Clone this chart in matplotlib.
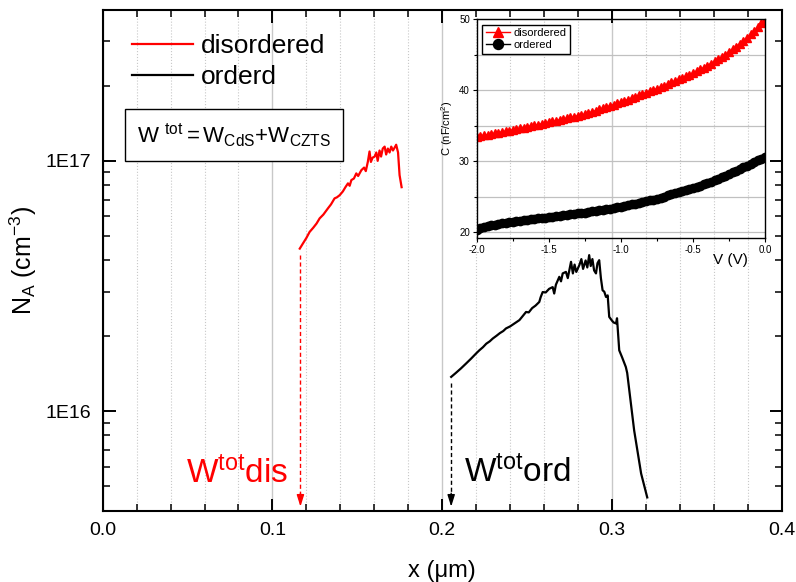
import matplotlib
matplotlib.use('Agg')
import matplotlib.pyplot as plt
from matplotlib.ticker import MultipleLocator, LogLocator, FixedLocator, FixedFormatter, NullFormatter
from matplotlib.lines import Line2D

plt.rcParams['font.family'] = ['Liberation Sans', 'DejaVu Sans']
plt.rcParams['mathtext.fontset'] = 'custom'
plt.rcParams['mathtext.rm'] = 'Liberation Sans'
plt.rcParams['mathtext.it'] = 'Liberation Sans:italic'
plt.rcParams['mathtext.default'] = 'regular'
plt.rcParams['axes.unicode_minus'] = False

# ---------------- main chart data: N_A vs depth x (um) ----------------
dis_x = [0.1161, 0.1180, 0.1200, 0.1219, 0.1240, 0.1260, 0.1278, 0.1300, 0.1327, 0.1345,
         0.1366, 0.1380, 0.1396, 0.1415, 0.1430, 0.1445, 0.1455, 0.1465, 0.1480, 0.1494,
         0.1505, 0.1524, 0.1540, 0.1550, 0.1562, 0.1572, 0.1580, 0.1590, 0.1602, 0.1612,
         0.1620, 0.1631, 0.1640, 0.1650, 0.1661, 0.1670, 0.1680, 0.1690, 0.1700, 0.1710,
         0.1720, 0.1729, 0.1740, 0.1749, 0.1761]
dis_n = [4.46e16, 4.68e16, 4.92e16, 5.20e16, 5.40e16, 5.62e16, 5.89e16, 6.10e16, 6.46e16, 6.70e16,
         7.08e16, 7.15e16, 7.29e16, 7.55e16, 7.85e16, 8.13e16, 7.95e16, 8.38e16, 8.50e16, 8.91e16,
         8.70e16, 9.18e16, 9.40e16, 9.10e16, 9.91e16, 1.09e17, 9.90e16, 1.03e17, 1.04e17, 1.08e17,
         1.00e17, 1.10e17, 1.04e17, 1.12e17, 1.14e17, 1.06e17, 1.12e17, 1.08e17, 1.14e17, 1.10e17,
         1.13e17, 1.16e17, 1.08e17, 8.77e16, 7.85e16]

ord_x = [0.2053, 0.2080, 0.2110, 0.2141, 0.2170, 0.2200, 0.2219, 0.2240, 0.2260, 0.2280,
         0.2298, 0.2320, 0.2340, 0.2360, 0.2376, 0.2400, 0.2430, 0.2455, 0.2475, 0.2494,
         0.2510, 0.2530, 0.2550, 0.2572, 0.2580, 0.2592, 0.2610, 0.2630, 0.2651, 0.2660,
         0.2670, 0.2690, 0.2700, 0.2710, 0.2729, 0.2740, 0.2759, 0.2770, 0.2780, 0.2790,
         0.2808, 0.2820, 0.2830, 0.2845, 0.2855, 0.2866, 0.2875, 0.2885, 0.2895, 0.2906,
         0.2915, 0.2925, 0.2935, 0.2945, 0.2955, 0.2965, 0.2975, 0.2984, 0.3000, 0.3010,
         0.3024, 0.3030, 0.3043, 0.3060, 0.3082, 0.3090, 0.3131, 0.3172, 0.3208]
ord_n = [1.37e16, 1.42e16, 1.48e16, 1.55e16, 1.62e16, 1.70e16, 1.75e16, 1.80e16, 1.86e16, 1.90e16,
         1.95e16, 2.00e16, 2.05e16, 2.09e16, 2.14e16, 2.18e16, 2.25e16, 2.31e16, 2.40e16, 2.49e16,
         2.48e16, 2.58e16, 2.64e16, 2.73e16, 2.85e16, 2.99e16, 2.98e16, 3.08e16, 3.13e16, 2.95e16,
         3.20e16, 3.44e16, 3.30e16, 3.55e16, 3.60e16, 3.40e16, 3.95e16, 3.55e16, 3.85e16, 3.60e16,
         3.83e16, 4.05e16, 3.70e16, 4.00e16, 3.75e16, 4.20e16, 3.80e16, 4.05e16, 3.65e16, 3.55e16,
         3.90e16, 4.01e16, 3.40e16, 3.04e16, 3.00e16, 2.86e16, 2.90e16, 2.38e16, 2.30e16, 2.26e16,
         2.24e16, 2.35e16, 1.75e16, 1.64e16, 1.50e16, 1.42e16, 8.37e15, 5.63e15, 4.52e15]

w_dis = 0.1165     # W_tot disordered marker position
w_ord = 0.2053     # W_tot ordered marker position

# ---------------- inset data: C-V ----------------
V = [-2.000, -1.975, -1.950, -1.925, -1.900, -1.875, -1.850, -1.825, -1.800, -1.775,
     -1.750, -1.725, -1.700, -1.675, -1.650, -1.625, -1.600, -1.575, -1.550, -1.525,
     -1.500, -1.475, -1.450, -1.425, -1.400, -1.375, -1.350, -1.325, -1.300, -1.275,
     -1.250, -1.225, -1.200, -1.175, -1.150, -1.125, -1.100, -1.075, -1.050, -1.025,
     -1.000, -0.975, -0.950, -0.925, -0.900, -0.875, -0.850, -0.825, -0.800, -0.775,
     -0.750, -0.725, -0.700, -0.675, -0.650, -0.625, -0.600, -0.575, -0.550, -0.525,
     -0.500, -0.475, -0.450, -0.425, -0.400, -0.375, -0.350, -0.325, -0.300, -0.275,
     -0.250, -0.225, -0.200, -0.175, -0.150, -0.125, -0.100, -0.075, -0.050, -0.025, 0.000]
C_dis = [33.45, 33.54, 33.64, 33.73, 33.83, 33.92, 34.02, 34.11, 34.21, 34.30,
         34.40, 34.51, 34.61, 34.72, 34.83, 34.94, 35.04, 35.15, 35.26, 35.36,
         35.47, 35.58, 35.70, 35.81, 35.92, 36.04, 36.15, 36.26, 36.38, 36.49,
         36.60, 36.77, 36.94, 37.11, 37.28, 37.45, 37.62, 37.79, 37.96, 38.13,
         38.30, 38.49, 38.68, 38.87, 39.06, 39.25, 39.44, 39.63, 39.82, 40.01,
         40.20, 40.42, 40.64, 40.86, 41.08, 41.30, 41.52, 41.74, 41.96, 42.18,
         42.40, 42.65, 42.91, 43.18, 43.46, 43.75, 44.05, 44.36, 44.68, 45.01,
         45.40, 45.76, 46.14, 46.54, 46.96, 47.40, 47.86, 48.34, 48.85, 49.40, 49.95]
C_ord = [20.35, 20.52, 20.67, 20.80, 20.92, 21.03, 21.13, 21.22, 21.30, 21.38,
         21.45, 21.52, 21.58, 21.65, 21.71, 21.78, 21.84, 21.91, 21.97, 22.04,
         22.10, 22.16, 22.23, 22.29, 22.36, 22.42, 22.49, 22.55, 22.62, 22.68,
         22.75, 22.83, 22.91, 22.99, 23.07, 23.15, 23.23, 23.31, 23.39, 23.47,
         23.55, 23.66, 23.78, 23.89, 24.01, 24.12, 24.24, 24.35, 24.47, 24.58,
         24.70, 24.85, 25.00, 25.15, 25.30, 25.45, 25.60, 25.75, 25.90, 26.05,
         26.20, 26.37, 26.55, 26.73, 26.92, 27.11, 27.31, 27.52, 27.74, 27.96,
         28.20, 28.43, 28.66, 28.89, 29.12, 29.36, 29.60, 29.85, 30.09, 30.34, 30.60]

series_labels = ['disordered', 'orderd']
inset_labels = ['disordered', 'ordered']

# ---------------- figure ----------------
fig = plt.figure(figsize=(7.96, 5.82), dpi=100)
ax = fig.add_axes([0.129, 0.1225, 0.853, 0.860])

ax.plot(dis_x, dis_n, color='red', lw=1.6, zorder=3)
ax.plot(ord_x, ord_n, color='black', lw=1.6, zorder=3)

ax.set_yscale('log')
ax.set_xlim(0, 0.4)
ax.set_ylim(4e15, 4e17)

# dashed arrows marking W_tot
for xw, y0, col in [(w_dis, 4.2e16, 'red'), (w_ord, 1.3e16, 'black')]:
    ax.plot([xw, xw], [y0, 4.6e15], color=col, lw=1.0, ls=(0, (3, 2)), zorder=3)
    ax.annotate('', xy=(xw, 4.15e15), xytext=(xw, 4.7e15),
                arrowprops=dict(arrowstyle='-|>,head_length=0.7,head_width=0.22',
                                color=col, lw=1.0, shrinkA=0, shrinkB=0), zorder=3)

ax.text(0.0490, 5.14e15, r'$W^{tot}dis$', color='red', fontsize=24, ha='left', va='baseline')
ax.text(0.2131, 5.2e15, r'$W^{tot}ord$', color='black', fontsize=24, ha='left', va='baseline')

# ticks
ax.xaxis.set_major_locator(MultipleLocator(0.1))
ax.xaxis.set_minor_locator(MultipleLocator(0.02))
ax.yaxis.set_major_locator(FixedLocator([1e16, 1e17]))
ax.yaxis.set_major_formatter(FixedFormatter(['1E16', '1E17']))
ax.yaxis.set_minor_locator(LogLocator(base=10, subs=range(2, 10)))
ax.yaxis.set_minor_formatter(NullFormatter())
ax.tick_params(which='both', direction='in', top=True, right=True)
ax.tick_params(which='major', length=9, width=1.4, labelsize=14, pad=8)
ax.tick_params(which='minor', length=5, width=1.1)
for s in ax.spines.values():
    s.set_linewidth(1.5)

ax.grid(axis='x', which='major', color='#c8c8c8', lw=1.0, ls='-')
ax.grid(axis='x', which='minor', color='#c8c8c8', lw=0.8, ls=':')
ax.set_axisbelow(True)

ax.set_xlabel('x (μm)', fontsize=17, labelpad=15)
ax.set_ylabel(r'N$_A$ (cm$^{-3}$)', fontsize=18)
ax.yaxis.set_label_coords(-0.094, 0.5)

handles = [Line2D([], [], color='red', lw=1.6), Line2D([], [], color='black', lw=1.6)]
ax.legend(handles, series_labels, loc='upper left', bbox_to_anchor=(0.043, 0.952),
          frameon=False, fontsize=19, handlelength=2.3, handletextpad=0.3,
          labelspacing=0.25, borderpad=0, borderaxespad=0)

ax.text(0.0505, 0.751, r'$W\ ^{tot}{=}W_{CdS}{+}W_{CZTS}$', transform=ax.transAxes,
        fontsize=16, ha='left', va='center',
        bbox=dict(boxstyle='square,pad=0.55', fc='white', ec='black', lw=1.0))

# ---------------- inset ----------------
axin = fig.add_axes([0.599, 0.591, 0.362, 0.376], facecolor='none')
axin.plot(V, C_dis, color='red', marker='^', ms=6, lw=1.0, label=inset_labels[0])
axin.plot(V, C_ord, color='black', marker='o', ms=6, lw=1.0, label=inset_labels[1])
axin.set_xlim(-2.0, 0.0)
axin.set_ylim(19.15, 50)
axin.xaxis.set_major_locator(MultipleLocator(0.5))
axin.xaxis.set_minor_locator(MultipleLocator(0.25))
axin.yaxis.set_major_locator(MultipleLocator(10))
axin.yaxis.set_minor_locator(MultipleLocator(5))
axin.tick_params(which='both', direction='out', labelsize=7, width=0.8)
axin.tick_params(which='major', length=3, pad=2)
axin.tick_params(which='minor', length=2)
axin.yaxis.grid(True, which='both', color='#c0c0c0', lw=0.9)
axin.set_axisbelow(True)
for s in axin.spines.values():
    s.set_linewidth(1.0)
axin.set_ylabel(r'C (nF/cm$^2$)', fontsize=8, labelpad=3)
axin.set_xlabel('V (V)', fontsize=11)
axin.xaxis.set_label_coords(0.88, -0.07)
axin.legend(loc='upper left', fontsize=8, frameon=True, fancybox=False,
            edgecolor='black', framealpha=1, borderpad=0.3, handlelength=2.2,
            handletextpad=0.3, labelspacing=0.2, markerscale=1.2, borderaxespad=0.5)

fig.savefig('out.png', dpi=100)
